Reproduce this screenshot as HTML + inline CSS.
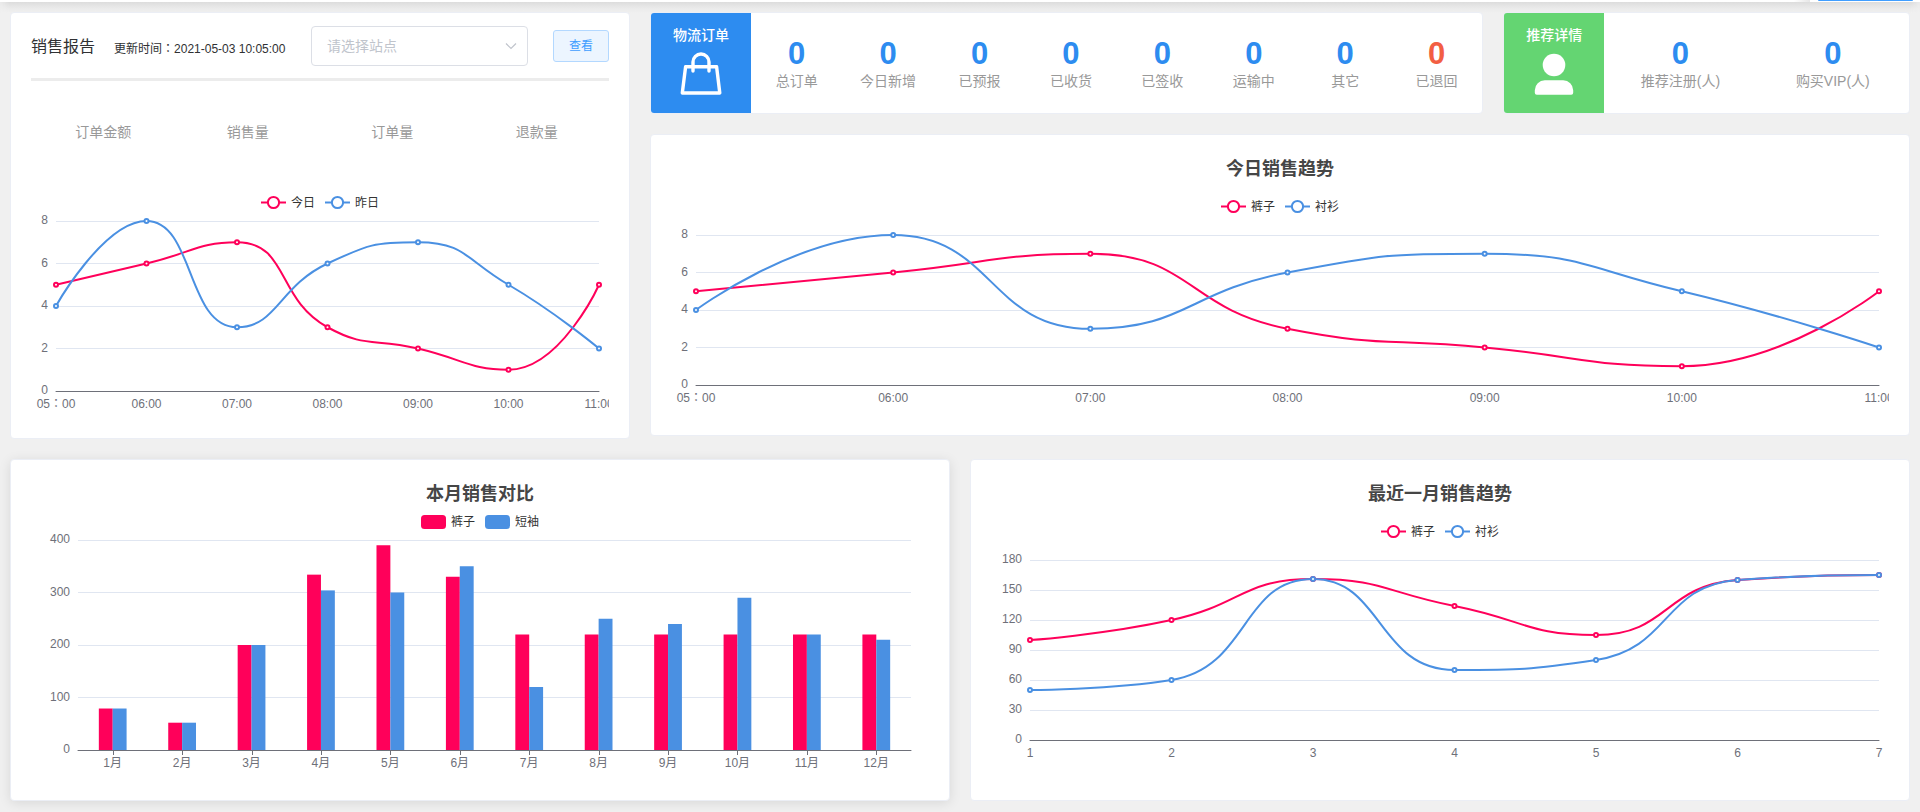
<!DOCTYPE html>
<html lang="zh-CN">
<head>
<meta charset="utf-8">
<title>销售报告</title>
<style>
*{box-sizing:border-box;margin:0;padding:0}
html,body{width:1920px;height:812px;overflow:hidden}
body{background:#f0f0f0;font-family:"Liberation Sans", "Noto Sans CJK SC", sans-serif;position:relative;color:#303133}
.card{position:absolute;background:#fff;border:1px solid #ebeef5;border-radius:4px}
.sh{box-shadow:0 2px 12px 0 rgba(0,0,0,.1)}
.cv{position:absolute;overflow:hidden;display:block}
.cv text{font-family:"Liberation Sans", "Noto Sans CJK SC", sans-serif}
.fw{font-family:"Noto Sans CJK TC","Noto Sans CJK SC",sans-serif}
.ax{font-size:12px;fill:#6E7079}
.lg{font-size:12px;fill:#333}
.tt{font-size:18px;font-weight:bold;fill:#464646}
.topbar{position:absolute;left:0;top:0;width:1920px;height:2px;background:#fff}
.topshadow{position:absolute;left:0;top:2px;width:1920px;height:11px;background:linear-gradient(#dcdcdc,#e4e4e4 30%,#ebebeb 62%,#f0f0f0);-webkit-mask-image:linear-gradient(to right,rgba(0,0,0,.25),#000 9px,#000 1911px,rgba(0,0,0,.25));mask-image:linear-gradient(to right,rgba(0,0,0,.25),#000 9px,#000 1911px,rgba(0,0,0,.25))}
.topgrey{position:absolute;left:1794px;top:0;width:16px;height:2px;background:linear-gradient(to right,#fff,#e6e6e6)}
.topblue{position:absolute;left:1818px;top:0;width:95px;height:1px;background:#409eff;border-radius:0 0 2px 2px}
.h1{position:absolute;left:31px;top:35px;font-size:16px;line-height:24px;color:#303133;white-space:nowrap}
.h2{position:absolute;left:114px;top:36px;font-size:12px;line-height:24px;color:#303133;white-space:nowrap}
.sel{position:absolute;left:311px;top:26px;width:217px;height:40px;border:1px solid #dcdfe6;border-radius:4px;background:#fff;font-size:14px;line-height:38px;color:#c0c4cc;padding-left:15px}
.sel svg{position:absolute;right:9.5px;top:12px}
.btn{position:absolute;left:553px;top:30px;width:56px;height:32px;border:1px solid #b3d8ff;border-radius:3px;background:#ecf5ff;color:#409eff;font-size:12px;line-height:30px;text-align:center}
.hr{position:absolute;left:31px;top:78px;width:578px;height:3px;background:#ececec}
.tab{position:absolute;top:120px;width:144.5px;text-align:center;font-size:14px;line-height:24px;color:#999}
.ib{position:absolute;top:13px;width:100px;height:100px;color:#fff;text-align:center;font-size:14px;font-weight:500}
.ib span{position:absolute;left:0;top:10px;width:100px;line-height:24px}
.ib svg{position:absolute}
.st{position:absolute;top:13px;height:100px;text-align:center}
.num{position:absolute;left:0;right:0;top:21px;font-size:31px;line-height:40px;font-weight:bold;color:#2d8cf0}
.num.red{color:#f25e43}
.lb{position:absolute;left:0;right:0;top:56px;font-size:14px;line-height:24px;color:#999;white-space:nowrap}
</style>
</head>
<body>
<div class="topshadow"></div>
<div class="topbar"></div>
<div class="topblue"></div>
<div class="topgrey"></div>

<div class="card" style="left:10px;top:12px;width:620px;height:427px"></div>
<div class="h1">销售报告</div>
<div class="h2">更新时间<span lang="zh-TW" class="fw">：</span>2021-05-03 10:05:00</div>
<div class="sel">请选择站点<svg width="14" height="14" viewBox="0 0 14 14"><path d="M2 4.5 L7 9.5 L12 4.5" fill="none" stroke="#c0c4cc" stroke-width="1.2"/></svg></div>
<div class="btn">查看</div>
<div class="hr"></div>
<div class="tab" style="left:31px">订单金额</div><div class="tab" style="left:175.5px">销售量</div><div class="tab" style="left:320px">订单量</div><div class="tab" style="left:464.5px">退款量</div>
<svg class="cv" style="left:31px;top:181px" width="578" height="240" viewBox="31 181 578 240"><text x="48" y="394" class="ax" text-anchor="end">0</text><path d="M56,348.5 H599" stroke="#E0E6F1" stroke-width="1" fill="none"/><text x="48" y="351.5" class="ax" text-anchor="end">2</text><path d="M56,306.5 H599" stroke="#E0E6F1" stroke-width="1" fill="none"/><text x="48" y="309" class="ax" text-anchor="end">4</text><path d="M56,263.5 H599" stroke="#E0E6F1" stroke-width="1" fill="none"/><text x="48" y="266.5" class="ax" text-anchor="end">6</text><path d="M56,221.5 H599" stroke="#E0E6F1" stroke-width="1" fill="none"/><text x="48" y="224" class="ax" text-anchor="end">8</text><path d="M56,391.5 H599" stroke="#6E7079" stroke-width="1" fill="none" stroke-linecap="round"/><text x="56" y="408" class="ax" text-anchor="middle">05<tspan lang="zh-TW" class="fw">：</tspan>00</text><text x="146.5" y="408" class="ax" text-anchor="middle">06:00</text><text x="237" y="408" class="ax" text-anchor="middle">07:00</text><text x="327.5" y="408" class="ax" text-anchor="middle">08:00</text><text x="418" y="408" class="ax" text-anchor="middle">09:00</text><text x="508.5" y="408" class="ax" text-anchor="middle">10:00</text><text x="599" y="408" class="ax" text-anchor="middle">11:00</text><path d="M56,284.75C56,284.75 101.25,274.12 146.5,263.5C191.75,252.88 198.25,242.25 237,242.25C288.75,242.25 275.75,298.87 327.5,327.25C366.25,348.5 372.75,337.88 418,348.5C463.25,359.12 469.75,369.75 508.5,369.75C560.25,369.75 599,284.75 599,284.75" stroke="#FF005A" stroke-width="2" fill="none" stroke-linejoin="bevel"/><path d="M56,306C56,306 103.89,221 146.5,221C194.39,221 186.53,327.25 237,327.25C277.03,327.25 278.31,286.6 327.5,263.5C368.81,244.1 374.4,242.25 418,242.25C464.9,242.25 465.55,259.54 508.5,284.75C556.05,312.66 599,348.5 599,348.5" stroke="#4A90E2" stroke-width="2" fill="none" stroke-linejoin="bevel"/><circle cx="56" cy="284.75" r="2" fill="#fff" stroke="#FF005A" stroke-width="2"/><circle cx="146.5" cy="263.5" r="2" fill="#fff" stroke="#FF005A" stroke-width="2"/><circle cx="237" cy="242.25" r="2" fill="#fff" stroke="#FF005A" stroke-width="2"/><circle cx="327.5" cy="327.25" r="2" fill="#fff" stroke="#FF005A" stroke-width="2"/><circle cx="418" cy="348.5" r="2" fill="#fff" stroke="#FF005A" stroke-width="2"/><circle cx="508.5" cy="369.75" r="2" fill="#fff" stroke="#FF005A" stroke-width="2"/><circle cx="599" cy="284.75" r="2" fill="#fff" stroke="#FF005A" stroke-width="2"/><circle cx="56" cy="306" r="2" fill="#fff" stroke="#4A90E2" stroke-width="2"/><circle cx="146.5" cy="221" r="2" fill="#fff" stroke="#4A90E2" stroke-width="2"/><circle cx="237" cy="327.25" r="2" fill="#fff" stroke="#4A90E2" stroke-width="2"/><circle cx="327.5" cy="263.5" r="2" fill="#fff" stroke="#4A90E2" stroke-width="2"/><circle cx="418" cy="242.25" r="2" fill="#fff" stroke="#4A90E2" stroke-width="2"/><circle cx="508.5" cy="284.75" r="2" fill="#fff" stroke="#4A90E2" stroke-width="2"/><circle cx="599" cy="348.5" r="2" fill="#fff" stroke="#4A90E2" stroke-width="2"/><path d="M261,202.5 h25" stroke="#FF005A" stroke-width="2" fill="none"/><circle cx="273.5" cy="202.5" r="5.6" fill="#fff" stroke="#FF005A" stroke-width="2"/><text x="291" y="206.5" class="lg">今日</text><path d="M325,202.5 h25" stroke="#4A90E2" stroke-width="2" fill="none"/><circle cx="337.5" cy="202.5" r="5.6" fill="#fff" stroke="#4A90E2" stroke-width="2"/><text x="355" y="206.5" class="lg">昨日</text></svg>

<div class="card" style="left:650px;top:12px;width:833.33px;height:102px"></div>
<div class="ib" style="left:651px;background:#2d8cf0;border-radius:3px 0 0 3px"><span>物流订单</span>
<svg style="left:28px;top:38px" width="44" height="46" viewBox="0 0 44 46"><path d="M6.6 15.7 H37.6 L40.8 42 H3.3 Z" fill="none" stroke="#fff" stroke-width="3.4" stroke-linejoin="round"/><path d="M14 20 V11 A8 8 0 0 1 30 11 V20" fill="none" stroke="#fff" stroke-width="3.4" stroke-linecap="round"/></svg>
</div>
<div class="st" style="left:751px;width:91.42px"><div class="num">0</div><div class="lb">总订单</div></div><div class="st" style="left:842.42px;width:91.42px"><div class="num">0</div><div class="lb">今日新增</div></div><div class="st" style="left:933.83px;width:91.42px"><div class="num">0</div><div class="lb">已预报</div></div><div class="st" style="left:1025.25px;width:91.42px"><div class="num">0</div><div class="lb">已收货</div></div><div class="st" style="left:1116.66px;width:91.42px"><div class="num">0</div><div class="lb">已签收</div></div><div class="st" style="left:1208.08px;width:91.42px"><div class="num">0</div><div class="lb">运输中</div></div><div class="st" style="left:1299.5px;width:91.42px"><div class="num">0</div><div class="lb">其它</div></div><div class="st" style="left:1390.91px;width:91.42px"><div class="num red">0</div><div class="lb">已退回</div></div>

<div class="card" style="left:1503.33px;top:12px;width:406.67px;height:102px"></div>
<div class="ib" style="left:1504.33px;background:#64d572;border-radius:3px 0 0 3px"><span>推荐详情</span>
<svg style="left:28px;top:38px" width="44" height="46" viewBox="0 0 44 46"><circle cx="22" cy="14" r="11.3" fill="#fff"/><path d="M2.8 41.7 V39.2 A10 10 0 0 1 12.8 29.2 H31.2 A10 10 0 0 1 41.2 39.2 V41.7 A2 2 0 0 1 39.2 43.7 H4.8 A2 2 0 0 1 2.8 41.7 Z" fill="#fff"/></svg>
</div>
<div class="st" style="left:1604.33px;width:152.33px"><div class="num">0</div><div class="lb">推荐注册(人)</div></div><div class="st" style="left:1756.66px;width:152.33px"><div class="num">0</div><div class="lb">购买VIP(人)</div></div>

<div class="card" style="left:650px;top:134px;width:1260px;height:302px"></div>
<svg class="cv" style="left:671px;top:145px" width="1218" height="280" viewBox="671 145 1218 280"><text x="688" y="388" class="ax" text-anchor="end">0</text><path d="M696,347.5 H1879" stroke="#E0E6F1" stroke-width="1" fill="none"/><text x="688" y="350.5" class="ax" text-anchor="end">2</text><path d="M696,310.5 H1879" stroke="#E0E6F1" stroke-width="1" fill="none"/><text x="688" y="313" class="ax" text-anchor="end">4</text><path d="M696,272.5 H1879" stroke="#E0E6F1" stroke-width="1" fill="none"/><text x="688" y="275.5" class="ax" text-anchor="end">6</text><path d="M696,235.5 H1879" stroke="#E0E6F1" stroke-width="1" fill="none"/><text x="688" y="238" class="ax" text-anchor="end">8</text><path d="M696,385.5 H1879" stroke="#6E7079" stroke-width="1" fill="none" stroke-linecap="round"/><text x="696" y="402" class="ax" text-anchor="middle">05<tspan lang="zh-TW" class="fw">：</tspan>00</text><text x="893.17" y="402" class="ax" text-anchor="middle">06:00</text><text x="1090.33" y="402" class="ax" text-anchor="middle">07:00</text><text x="1287.5" y="402" class="ax" text-anchor="middle">08:00</text><text x="1484.67" y="402" class="ax" text-anchor="middle">09:00</text><text x="1681.83" y="402" class="ax" text-anchor="middle">10:00</text><text x="1879" y="402" class="ax" text-anchor="middle">11:00</text><path d="M696,291.25C696,291.25 794.58,281.88 893.17,272.5C991.75,263.12 994.86,253.75 1090.33,253.75C1192.02,253.75 1185.81,308.78 1287.5,328.75C1382.98,347.5 1386.08,338.12 1484.67,347.5C1583.25,356.88 1586.36,366.25 1681.83,366.25C1783.52,366.25 1879,291.25 1879,291.25" stroke="#FF005A" stroke-width="2" fill="none" stroke-linejoin="bevel"/><path d="M696,310C696,310 796.28,235 893.17,235C993.44,235 988.66,328.75 1090.33,328.75C1185.82,328.75 1187.21,291.57 1287.5,272.5C1384.38,254.07 1386.74,253.75 1484.67,253.75C1583.9,253.75 1584.3,268.06 1681.83,291.25C1781.47,314.94 1879,347.5 1879,347.5" stroke="#4A90E2" stroke-width="2" fill="none" stroke-linejoin="bevel"/><circle cx="696" cy="291.25" r="2" fill="#fff" stroke="#FF005A" stroke-width="2"/><circle cx="893.17" cy="272.5" r="2" fill="#fff" stroke="#FF005A" stroke-width="2"/><circle cx="1090.33" cy="253.75" r="2" fill="#fff" stroke="#FF005A" stroke-width="2"/><circle cx="1287.5" cy="328.75" r="2" fill="#fff" stroke="#FF005A" stroke-width="2"/><circle cx="1484.67" cy="347.5" r="2" fill="#fff" stroke="#FF005A" stroke-width="2"/><circle cx="1681.83" cy="366.25" r="2" fill="#fff" stroke="#FF005A" stroke-width="2"/><circle cx="1879" cy="291.25" r="2" fill="#fff" stroke="#FF005A" stroke-width="2"/><circle cx="696" cy="310" r="2" fill="#fff" stroke="#4A90E2" stroke-width="2"/><circle cx="893.17" cy="235" r="2" fill="#fff" stroke="#4A90E2" stroke-width="2"/><circle cx="1090.33" cy="328.75" r="2" fill="#fff" stroke="#4A90E2" stroke-width="2"/><circle cx="1287.5" cy="272.5" r="2" fill="#fff" stroke="#4A90E2" stroke-width="2"/><circle cx="1484.67" cy="253.75" r="2" fill="#fff" stroke="#4A90E2" stroke-width="2"/><circle cx="1681.83" cy="291.25" r="2" fill="#fff" stroke="#4A90E2" stroke-width="2"/><circle cx="1879" cy="347.5" r="2" fill="#fff" stroke="#4A90E2" stroke-width="2"/><text x="1280" y="175" class="tt" text-anchor="middle">今日销售趋势</text><path d="M1221,206.5 h25" stroke="#FF005A" stroke-width="2" fill="none"/><circle cx="1233.5" cy="206.5" r="5.6" fill="#fff" stroke="#FF005A" stroke-width="2"/><text x="1251" y="210.5" class="lg">裤子</text><path d="M1285,206.5 h25" stroke="#4A90E2" stroke-width="2" fill="none"/><circle cx="1297.5" cy="206.5" r="5.6" fill="#fff" stroke="#4A90E2" stroke-width="2"/><text x="1315" y="210.5" class="lg">衬衫</text></svg>

<div class="card sh" style="left:10px;top:459px;width:940px;height:342px"></div>
<svg class="cv" style="left:31px;top:470px" width="898" height="320" viewBox="31 470 898 320"><text x="70" y="753" class="ax" text-anchor="end">0</text><path d="M78,697.5 H911" stroke="#E0E6F1" stroke-width="1" fill="none"/><text x="70" y="700.5" class="ax" text-anchor="end">100</text><path d="M78,645.5 H911" stroke="#E0E6F1" stroke-width="1" fill="none"/><text x="70" y="648" class="ax" text-anchor="end">200</text><path d="M78,592.5 H911" stroke="#E0E6F1" stroke-width="1" fill="none"/><text x="70" y="595.5" class="ax" text-anchor="end">300</text><path d="M78,540.5 H911" stroke="#E0E6F1" stroke-width="1" fill="none"/><text x="70" y="543" class="ax" text-anchor="end">400</text><text x="112.71" y="767" class="ax" text-anchor="middle">1月</text><rect x="98.83" y="708.52" width="13.88" height="41.48" fill="#FF005A"/><rect x="112.71" y="708.52" width="13.88" height="41.48" fill="#4A90E2"/><text x="182.12" y="767" class="ax" text-anchor="middle">2月</text><rect x="168.24" y="722.7" width="13.88" height="27.3" fill="#FF005A"/><rect x="182.12" y="722.7" width="13.88" height="27.3" fill="#4A90E2"/><text x="251.54" y="767" class="ax" text-anchor="middle">3月</text><rect x="237.66" y="645" width="13.88" height="105" fill="#FF005A"/><rect x="251.54" y="645" width="13.88" height="105" fill="#4A90E2"/><text x="320.96" y="767" class="ax" text-anchor="middle">4月</text><rect x="307.08" y="574.65" width="13.88" height="175.35" fill="#FF005A"/><rect x="320.96" y="590.4" width="13.88" height="159.6" fill="#4A90E2"/><text x="390.38" y="767" class="ax" text-anchor="middle">5月</text><rect x="376.49" y="545.25" width="13.88" height="204.75" fill="#FF005A"/><rect x="390.38" y="592.5" width="13.88" height="157.5" fill="#4A90E2"/><text x="459.79" y="767" class="ax" text-anchor="middle">6月</text><rect x="445.91" y="576.75" width="13.88" height="173.25" fill="#FF005A"/><rect x="459.79" y="566.25" width="13.88" height="183.75" fill="#4A90E2"/><text x="529.21" y="767" class="ax" text-anchor="middle">7月</text><rect x="515.33" y="634.5" width="13.88" height="115.5" fill="#FF005A"/><rect x="529.21" y="687" width="13.88" height="63" fill="#4A90E2"/><text x="598.62" y="767" class="ax" text-anchor="middle">8月</text><rect x="584.74" y="634.5" width="13.88" height="115.5" fill="#FF005A"/><rect x="598.62" y="618.75" width="13.88" height="131.25" fill="#4A90E2"/><text x="668.04" y="767" class="ax" text-anchor="middle">9月</text><rect x="654.16" y="634.5" width="13.88" height="115.5" fill="#FF005A"/><rect x="668.04" y="624" width="13.88" height="126" fill="#4A90E2"/><text x="737.46" y="767" class="ax" text-anchor="middle">10月</text><rect x="723.58" y="634.5" width="13.88" height="115.5" fill="#FF005A"/><rect x="737.46" y="597.75" width="13.88" height="152.25" fill="#4A90E2"/><text x="806.88" y="767" class="ax" text-anchor="middle">11月</text><rect x="792.99" y="634.5" width="13.88" height="115.5" fill="#FF005A"/><rect x="806.88" y="634.5" width="13.88" height="115.5" fill="#4A90E2"/><text x="876.29" y="767" class="ax" text-anchor="middle">12月</text><rect x="862.41" y="634.5" width="13.88" height="115.5" fill="#FF005A"/><rect x="876.29" y="639.75" width="13.88" height="110.25" fill="#4A90E2"/><path d="M78,750.5 H911" stroke="#6E7079" stroke-width="1" fill="none" stroke-linecap="round"/><path d="M113.5,750 v5" stroke="#6E7079" stroke-width="1" fill="none"/><path d="M182.5,750 v5" stroke="#6E7079" stroke-width="1" fill="none"/><path d="M252.5,750 v5" stroke="#6E7079" stroke-width="1" fill="none"/><path d="M321.5,750 v5" stroke="#6E7079" stroke-width="1" fill="none"/><path d="M390.5,750 v5" stroke="#6E7079" stroke-width="1" fill="none"/><path d="M460.5,750 v5" stroke="#6E7079" stroke-width="1" fill="none"/><path d="M529.5,750 v5" stroke="#6E7079" stroke-width="1" fill="none"/><path d="M599.5,750 v5" stroke="#6E7079" stroke-width="1" fill="none"/><path d="M668.5,750 v5" stroke="#6E7079" stroke-width="1" fill="none"/><path d="M737.5,750 v5" stroke="#6E7079" stroke-width="1" fill="none"/><path d="M807.5,750 v5" stroke="#6E7079" stroke-width="1" fill="none"/><path d="M876.5,750 v5" stroke="#6E7079" stroke-width="1" fill="none"/><text x="480" y="500" class="tt" text-anchor="middle">本月销售对比</text><rect x="421" y="515" width="25" height="14" rx="3.5" fill="#FF005A"/><text x="451" y="526" class="lg">裤子</text><rect x="485" y="515" width="25" height="14" rx="3.5" fill="#4A90E2"/><text x="515" y="526" class="lg">短袖</text></svg>

<div class="card" style="left:970px;top:459px;width:940px;height:342px"></div>
<svg class="cv" style="left:991px;top:470px" width="898" height="320" viewBox="991 470 898 320"><text x="1022" y="743" class="ax" text-anchor="end">0</text><path d="M1030,710.5 H1879" stroke="#E0E6F1" stroke-width="1" fill="none"/><text x="1022" y="713" class="ax" text-anchor="end">30</text><path d="M1030,680.5 H1879" stroke="#E0E6F1" stroke-width="1" fill="none"/><text x="1022" y="683" class="ax" text-anchor="end">60</text><path d="M1030,650.5 H1879" stroke="#E0E6F1" stroke-width="1" fill="none"/><text x="1022" y="653" class="ax" text-anchor="end">90</text><path d="M1030,620.5 H1879" stroke="#E0E6F1" stroke-width="1" fill="none"/><text x="1022" y="623" class="ax" text-anchor="end">120</text><path d="M1030,590.5 H1879" stroke="#E0E6F1" stroke-width="1" fill="none"/><text x="1022" y="593" class="ax" text-anchor="end">150</text><path d="M1030,560.5 H1879" stroke="#E0E6F1" stroke-width="1" fill="none"/><text x="1022" y="563" class="ax" text-anchor="end">180</text><path d="M1030,740.5 H1879" stroke="#6E7079" stroke-width="1" fill="none" stroke-linecap="round"/><text x="1030" y="757" class="ax" text-anchor="middle">1</text><text x="1171.5" y="757" class="ax" text-anchor="middle">2</text><text x="1313" y="757" class="ax" text-anchor="middle">3</text><text x="1454.5" y="757" class="ax" text-anchor="middle">4</text><text x="1596" y="757" class="ax" text-anchor="middle">5</text><text x="1737.5" y="757" class="ax" text-anchor="middle">6</text><text x="1879" y="757" class="ax" text-anchor="middle">7</text><path d="M1030,640C1030,640 1101.83,635.02 1171.5,620C1243.33,604.52 1241.46,579 1313,579C1382.96,579 1383.85,592.02 1454.5,606C1525.35,620.02 1527.01,635 1596,635C1668.51,635 1664.28,585.36 1737.5,580C1805.78,575 1879,575 1879,575" stroke="#FF005A" stroke-width="2" fill="none" stroke-linejoin="bevel"/><path d="M1030,690C1030,690 1107.92,690 1171.5,680C1249.42,667.74 1241.09,579 1313,579C1382.59,579 1377.73,670 1454.5,670C1519.23,670 1530.06,670 1596,660C1671.56,648.54 1661.87,585.74 1737.5,580C1803.37,575 1879,575 1879,575" stroke="#4A90E2" stroke-width="2" fill="none" stroke-linejoin="bevel"/><circle cx="1030" cy="640" r="2" fill="#fff" stroke="#FF005A" stroke-width="2"/><circle cx="1171.5" cy="620" r="2" fill="#fff" stroke="#FF005A" stroke-width="2"/><circle cx="1313" cy="579" r="2" fill="#fff" stroke="#FF005A" stroke-width="2"/><circle cx="1454.5" cy="606" r="2" fill="#fff" stroke="#FF005A" stroke-width="2"/><circle cx="1596" cy="635" r="2" fill="#fff" stroke="#FF005A" stroke-width="2"/><circle cx="1737.5" cy="580" r="2" fill="#fff" stroke="#FF005A" stroke-width="2"/><circle cx="1879" cy="575" r="2" fill="#fff" stroke="#FF005A" stroke-width="2"/><circle cx="1030" cy="690" r="2" fill="#fff" stroke="#4A90E2" stroke-width="2"/><circle cx="1171.5" cy="680" r="2" fill="#fff" stroke="#4A90E2" stroke-width="2"/><circle cx="1313" cy="579" r="2" fill="#fff" stroke="#4A90E2" stroke-width="2"/><circle cx="1454.5" cy="670" r="2" fill="#fff" stroke="#4A90E2" stroke-width="2"/><circle cx="1596" cy="660" r="2" fill="#fff" stroke="#4A90E2" stroke-width="2"/><circle cx="1737.5" cy="580" r="2" fill="#fff" stroke="#4A90E2" stroke-width="2"/><circle cx="1879" cy="575" r="2" fill="#fff" stroke="#4A90E2" stroke-width="2"/><text x="1440" y="500" class="tt" text-anchor="middle">最近一月销售趋势</text><path d="M1381,531.5 h25" stroke="#FF005A" stroke-width="2" fill="none"/><circle cx="1393.5" cy="531.5" r="5.6" fill="#fff" stroke="#FF005A" stroke-width="2"/><text x="1411" y="535.5" class="lg">裤子</text><path d="M1445,531.5 h25" stroke="#4A90E2" stroke-width="2" fill="none"/><circle cx="1457.5" cy="531.5" r="5.6" fill="#fff" stroke="#4A90E2" stroke-width="2"/><text x="1475" y="535.5" class="lg">衬衫</text></svg>
</body>
</html>
